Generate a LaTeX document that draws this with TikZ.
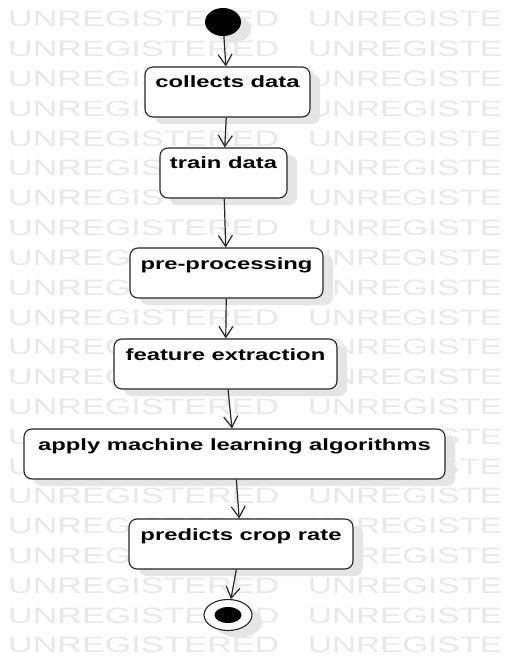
\documentclass[tikz,border=0pt]{standalone}
\usepackage{fontspec}
\setmainfont{Liberation Sans}
\usetikzlibrary{arrows.meta,shapes.geometric,shadows}
\begin{document}
\begin{tikzpicture}[x=1pt,y=-1pt,
  wm/.style={anchor=base west,inner sep=0pt,text=black!9,font=\fontsize{22.3}{24}\selectfont},
  act/.style={draw=black!85,line width=1.1pt,fill=white,rounded corners=8pt,
    minimum height=50pt,inner xsep=0pt,inner ysep=0pt,text height=21pt,text depth=29pt,
    font=\fontsize{16.3}{18}\selectfont\bfseries,
    drop shadow={shadow xshift=10pt,shadow yshift=-7pt,fill=black!10,opacity=1}},
  arr/.style={draw=black!85,line width=1.2pt,-{Straight Barb[length=11pt,width=14pt,line width=1.2pt]}}]
\useasboundingbox (0,0) rectangle (514,660);
\fill[white] (0,0) rectangle (514,660);
% watermark
\foreach \i in {0,...,21}{
  \node[wm] (wa\i) at (8,{27+29.8*\i}) {\scalebox{1.53}[1]{UNREGISTERED}};
  \node[wm] (wb\i) at (308,{27+29.8*\i}) {\scalebox{1.49}[1]{UNREGISTE}};
}
% start
\node[ellipse,fill=black,minimum width=36pt,minimum height=28pt,inner sep=0pt,
  drop shadow={shadow xshift=10pt,shadow yshift=-7pt,fill=black!10,opacity=1}] (s) at (223,22) {};
% activities
\node[act,minimum width=165pt] (b1) at (227.5,92) {\scalebox{1.46}[1]{collects data}};
\node[act,minimum width=127pt] (b2) at (223.5,173) {\scalebox{1.46}[1]{train data}};
\node[act,minimum width=193pt] (b3) at (226.5,273) {\scalebox{1.46}[1]{pre-processing}};
\node[act,minimum width=223pt] (b4) at (225.5,364) {\scalebox{1.46}[1]{feature extraction}};
\node[act,minimum width=421pt] (b5) at (234.5,454) {\scalebox{1.46}[1]{apply machine learning algorithms}};
\node[act,minimum width=224pt] (b6) at (241,544) {\scalebox{1.46}[1]{predicts crop rate}};
% end
\node[ellipse,draw=black!85,line width=1.1pt,fill=white,minimum width=48pt,minimum height=31pt,inner sep=0pt,
  drop shadow={shadow xshift=10pt,shadow yshift=-7pt,fill=black!10,opacity=1}] (e) at (228,615) {};
\node[ellipse,fill=black,minimum width=27pt,minimum height=16pt,inner sep=0pt] (ei) at (e.center) {};
% flows
\draw[arr] (s) -- (b1);
\draw[arr] (b1) -- (b2);
\draw[arr] (b2) -- (b3);
\draw[arr] (b3) -- (b4);
\draw[arr] (b4) -- (b5);
\draw[arr] (b5) -- (b6);
\draw[arr] (b6) -- (e);
\end{tikzpicture}
\end{document}
